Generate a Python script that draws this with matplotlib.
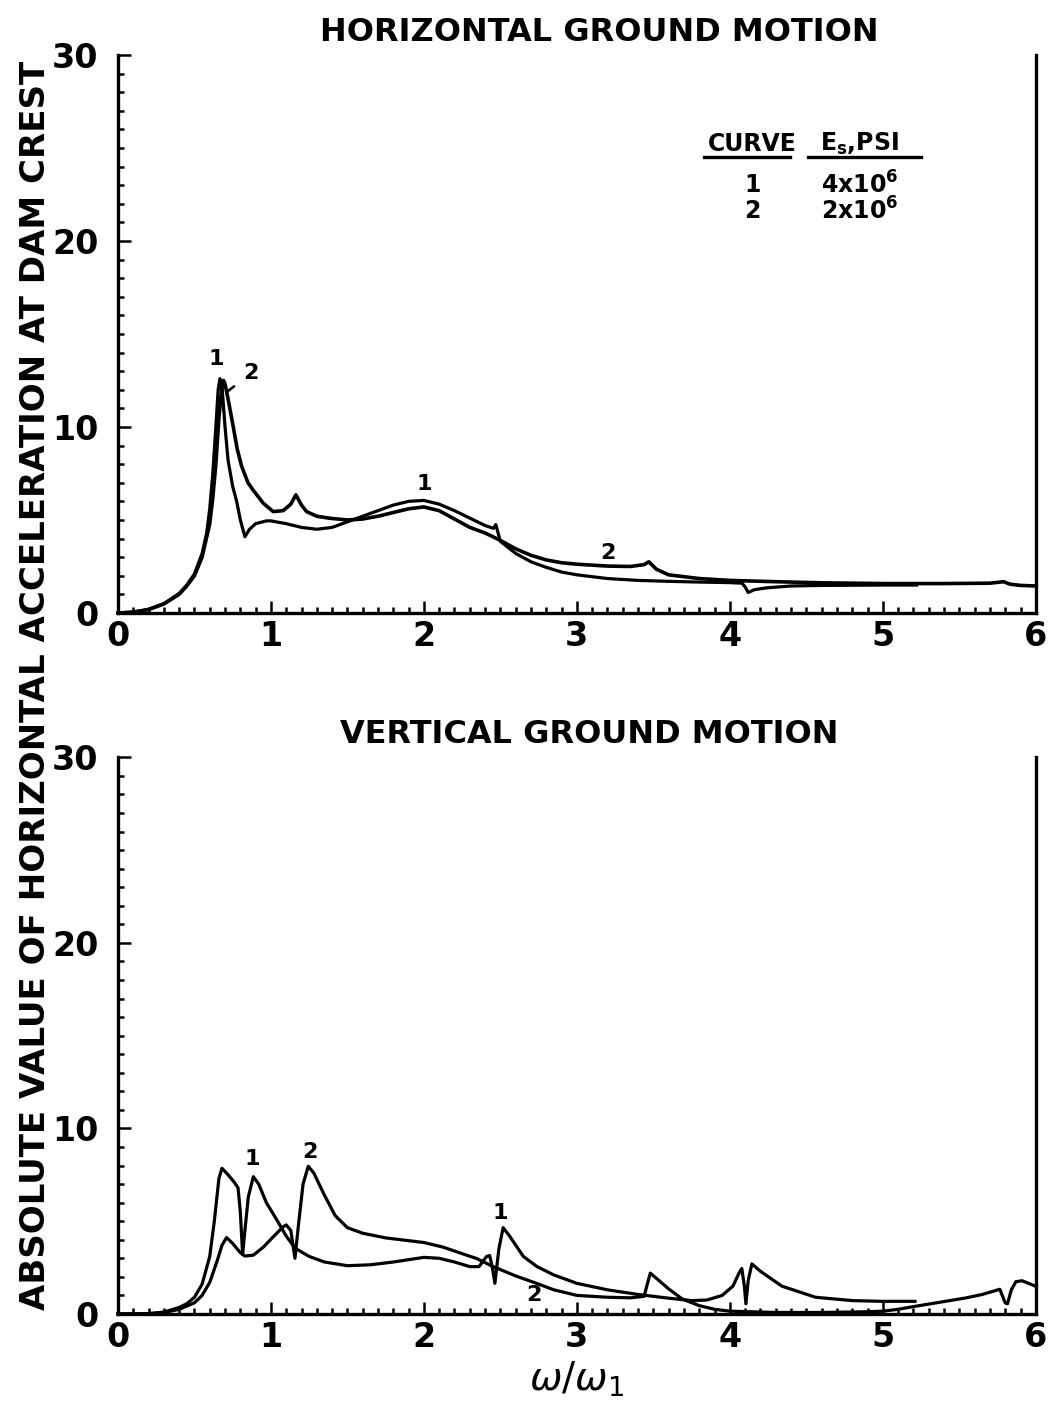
import numpy as np
import matplotlib
matplotlib.use("Agg")
import matplotlib.pyplot as plt
from matplotlib.ticker import MultipleLocator
from matplotlib.lines import Line2D

plt.rcParams['font.family'] = ['DejaVu Sans']

# ---- horizontal ground motion, curve 1 (Es = 4x10^6 psi) ----
h1_x = [0.0, 0.1, 0.2, 0.3, 0.4, 0.45, 0.5, 0.55, 0.58, 0.6, 0.62, 0.64, 0.655, 0.667,
        0.68, 0.70, 0.72, 0.75, 0.776, 0.80, 0.83, 0.86, 0.90, 0.97, 1.0, 1.1, 1.2, 1.3,
        1.4, 1.5, 1.6, 1.7, 1.8, 1.9, 2.0, 2.1, 2.2, 2.3, 2.4, 2.455, 2.47, 2.50, 2.6,
        2.7, 2.8, 2.9, 3.0, 3.2, 3.4, 3.6, 3.8, 4.0, 4.08, 4.1, 4.12, 4.16, 4.24, 4.4,
        4.6, 5.0, 5.22]
h1_y = [0.0, 0.05, 0.2, 0.5, 1.05, 1.5, 2.1, 3.2, 4.3, 5.6, 7.5, 10.0, 12.0, 12.6,
        12.2, 10.0, 8.2, 6.8, 6.0, 5.0, 4.1, 4.5, 4.8, 4.95, 4.95, 4.8, 4.6, 4.5,
        4.6, 4.9, 5.2, 5.5, 5.8, 6.0, 6.05, 5.85, 5.5, 5.1, 4.7, 4.55, 4.75, 3.85, 3.2,
        2.75, 2.45, 2.2, 2.05, 1.85, 1.75, 1.7, 1.66, 1.63, 1.6, 1.4, 1.1, 1.25, 1.35,
        1.45, 1.48, 1.5, 1.5]

# ---- horizontal ground motion, curve 2 (Es = 2x10^6 psi) ----
h2_x = [0.0, 0.1, 0.2, 0.3, 0.4, 0.45, 0.5, 0.55, 0.6, 0.62, 0.64, 0.66, 0.68, 0.69,
        0.70, 0.72, 0.754, 0.78, 0.808, 0.85, 0.884, 0.95, 1.015, 1.08, 1.13, 1.163,
        1.2, 1.233, 1.3, 1.386, 1.5, 1.6, 1.7, 1.8, 1.9, 2.0, 2.1, 2.2, 2.3, 2.4, 2.5,
        2.6, 2.7, 2.8, 2.9, 3.0, 3.2, 3.35, 3.44, 3.47, 3.52, 3.6, 3.8, 4.0, 4.3, 4.6,
        5.0, 5.4, 5.7, 5.79, 5.83, 5.9, 6.0]
h2_y = [0.0, 0.04, 0.18, 0.48, 1.0, 1.45, 2.0, 3.0, 4.8, 6.2, 8.0, 10.5, 12.2, 12.5,
        12.3, 11.5, 10.0, 8.8, 7.9, 7.0, 6.6, 5.9, 5.45, 5.5, 5.85, 6.35,
        5.8, 5.45, 5.2, 5.09, 5.0, 5.05, 5.2, 5.4, 5.6, 5.7, 5.5, 5.05, 4.6, 4.3, 3.9,
        3.45, 3.1, 2.85, 2.7, 2.62, 2.52, 2.5, 2.6, 2.75, 2.35, 2.05, 1.85, 1.75, 1.68, 1.62,
        1.58, 1.58, 1.6, 1.68, 1.55, 1.48, 1.45]

# ---- vertical ground motion, curve 1 ----
v1_x = [0.0, 0.2, 0.3, 0.4, 0.45, 0.5, 0.55, 0.6, 0.63, 0.66, 0.68, 0.72, 0.76, 0.785,
        0.80, 0.815, 0.83, 0.852, 0.885, 0.92, 0.97, 1.04, 1.10, 1.157, 1.25, 1.35, 1.5,
        1.65, 1.8, 2.0, 2.1, 2.2, 2.3, 2.36, 2.41, 2.43, 2.45, 2.464, 2.49, 2.518, 2.56,
        2.65, 2.74, 2.85, 3.0, 3.2, 3.4, 3.6, 3.75, 3.85, 3.95, 4.02, 4.06, 4.078, 4.095,
        4.105, 4.12, 4.144, 4.2, 4.34, 4.56, 4.8, 5.0, 5.21]
v1_y = [0.0, 0.02, 0.1, 0.35, 0.55, 0.9, 1.6, 3.1, 5.0, 7.3, 7.85, 7.5, 7.1, 6.8,
        5.5, 3.2, 4.5, 6.3, 7.4, 7.0, 6.0, 5.05, 4.2, 3.55, 3.1, 2.8, 2.6,
        2.65, 2.8, 3.05, 3.0, 2.8, 2.55, 2.55, 3.1, 3.15, 2.4, 1.65, 3.5, 4.65, 4.2,
        3.1, 2.55, 2.1, 1.65, 1.3, 1.05, 0.85, 0.72, 0.75, 1.0, 1.5, 2.2, 2.45, 1.5,
        0.55, 1.8, 2.7, 2.3, 1.5, 0.9, 0.72, 0.68, 0.68]

# ---- vertical ground motion, curve 2 ----
v2_x = [0.0, 0.2, 0.3, 0.4, 0.5, 0.55, 0.6, 0.65, 0.68, 0.71, 0.75, 0.8, 0.83, 0.885,
        0.95, 1.02, 1.08, 1.10, 1.13, 1.157, 1.18, 1.21, 1.244, 1.28, 1.35, 1.42, 1.5,
        1.6, 1.75, 1.9, 2.0, 2.126, 2.25, 2.344, 2.453, 2.6, 2.736, 2.85, 3.0, 3.2, 3.35,
        3.44, 3.46, 3.48, 3.53, 3.6, 3.69, 3.8, 3.9, 4.0, 4.3, 4.6, 4.9, 5.0, 5.1, 5.21,
        5.35, 5.54, 5.65, 5.765, 5.8, 5.815, 5.84, 5.87, 5.91, 5.98, 6.0]
v2_y = [0.0, 0.01, 0.07, 0.25, 0.6, 1.0, 1.7, 2.9, 3.7, 4.12, 3.8, 3.3, 3.12, 3.17,
        3.6, 4.2, 4.7, 4.8, 4.5, 3.0, 4.8, 7.0, 7.96, 7.6, 6.4, 5.3, 4.65,
        4.35, 4.1, 3.95, 3.85, 3.6, 3.25, 2.99, 2.55, 2.05, 1.65, 1.3, 1.0, 0.9, 0.87,
        0.95, 1.6, 2.2, 1.85, 1.35, 0.8, 0.45, 0.25, 0.15, 0.08, 0.08, 0.12, 0.15, 0.25, 0.41,
        0.6, 0.86, 1.05, 1.33, 0.6, 0.55, 1.3, 1.74, 1.79, 1.56, 1.48]

xticks = [0, 1, 2, 3, 4, 5, 6]
yticks = [0, 10, 20, 30]

fig = plt.figure(figsize=(10.55, 14.02), dpi=100)
ax1 = fig.add_axes([0.1118, 0.5628, 0.870, 0.398])
ax2 = fig.add_axes([0.1118, 0.0628, 0.870, 0.397])

for ax in (ax1, ax2):
    ax.set_xlim(0, 6)
    ax.set_ylim(0, 30)
    ax.spines['top'].set_visible(False)
    for s in ('left', 'bottom', 'right'):
        ax.spines[s].set_linewidth(2.4)
    ax.set_xticks(xticks)
    ax.set_yticks(yticks)
    ax.xaxis.set_minor_locator(MultipleLocator(0.1))
    ax.yaxis.set_minor_locator(MultipleLocator(1))
    ax.tick_params(which='both', direction='in', top=False, right=False, width=1.8)
    ax.tick_params(which='major', length=9)
    ax.tick_params(which='minor', length=4.5)
    ax.tick_params(axis='x', which='major', labelsize=24, pad=5)
    ax.tick_params(axis='y', which='major', labelsize=24, pad=14)
    for lab in ax.get_xticklabels() + ax.get_yticklabels():
        lab.set_fontweight('bold')

ax1.plot(h1_x, h1_y, color='k', lw=2.3, clip_on=False)
ax1.plot(h2_x, h2_y, color='k', lw=2.6, clip_on=False)
ax2.plot(v1_x, v1_y, color='k', lw=2.3, clip_on=False)
ax2.plot(v2_x, v2_y, color='k', lw=2.3, clip_on=False)

# curve labels
lbl = dict(fontsize=16, fontweight='bold', ha='center')
ax1.text(0.645, 13.1, '1', va='bottom', **lbl)
ax1.annotate('2', xy=(0.715, 11.9), xytext=(0.87, 12.9), va='center',
             arrowprops=dict(arrowstyle='-', lw=1.8, shrinkA=6, shrinkB=0), **lbl)
ax1.text(2.0, 6.4, '1', va='bottom', **lbl)
ax1.text(3.2, 2.7, '2', va='bottom', **lbl)

ax2.text(0.88, 7.8, '1', va='bottom', **lbl)
ax2.text(1.255, 8.2, '2', va='bottom', **lbl)
ax2.text(2.5, 4.9, '1', va='bottom', **lbl)
ax2.text(2.72, 1.0, '2', va='center', **lbl)

# legend table
leg = dict(fontsize=17, fontweight='bold', ha='center', va='center')
ax1.text(4.15, 25.2, 'CURVE', **leg)
ax1.text(4.85, 25.2, r'E$_\mathbf{s}$,PSI', **leg)
ax1.add_line(Line2D([0.638, 0.732], [0.818, 0.818], transform=ax1.transAxes,
                    color='k', lw=2.4))
ax1.add_line(Line2D([0.752, 0.875], [0.818, 0.818], transform=ax1.transAxes,
                    color='k', lw=2.4))
ax1.text(4.15, 23.0, '1', **leg)
ax1.text(4.15, 21.6, '2', **leg)
ax1.text(4.85, 23.0, r'4x10$^\mathbf{6}$', **leg)
ax1.text(4.85, 21.6, r'2x10$^\mathbf{6}$', **leg)

ax1.set_title('HORIZONTAL GROUND MOTION', fontsize=23, fontweight='bold', pad=10, x=0.524)
ax2.set_title('VERTICAL GROUND MOTION', fontsize=23, fontweight='bold', pad=10, x=0.514)
ax2.set_xlabel(r'$\omega/\omega_1$', fontsize=28, labelpad=4)

fig.text(0.034, 0.511, 'ABSOLUTE VALUE OF HORIZONTAL ACCELERATION AT DAM CREST',
         rotation=90, ha='center', va='center', fontsize=24.5, fontweight='bold')

fig.savefig('out.png', dpi=100)
